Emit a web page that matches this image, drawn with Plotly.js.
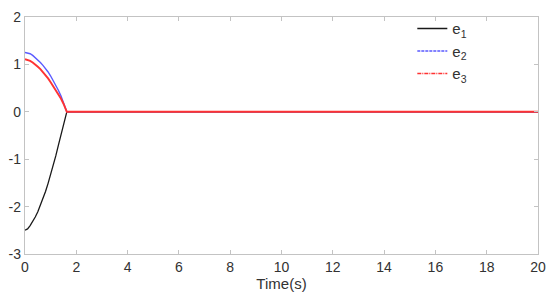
<!DOCTYPE html>
<html>
<head>
<meta charset="utf-8">
<script src="https://cdn.plot.ly/plotly-3.0.1.min.js"></script>
<style>
  html, body { margin: 0; padding: 0; background: #fff; }
  #chart { width: 550px; height: 302px; }
</style>
</head>
<body>
<div id="chart"></div>
<script>
// time samples (s); errors sit at 0 after ~1.63 s
const time = [0, 0.1, 0.2, 0.3, 0.4, 0.5, 0.6, 0.7, 0.8, 0.9, 1.0,
  1.1, 1.2, 1.3, 1.4, 1.5, 1.6, 1.63, 20]
const e1 = [-2.5, -2.47, -2.40, -2.32, -2.22, -2.11, -1.98, -1.84, -1.68, -1.51, -1.33,
  -1.14, -0.93, -0.71, -0.48, -0.25, -0.05, 0, 0]
const e2 = [1.25, 1.245, 1.225, 1.19, 1.145, 1.095, 1.04, 0.98, 0.915, 0.84, 0.755,
  0.665, 0.565, 0.455, 0.34, 0.20, 0.05, 0, 0]
const e3 = [1.11, 1.10, 1.075, 1.04, 1.0, 0.95, 0.90, 0.84, 0.78, 0.705, 0.625,
  0.545, 0.46, 0.37, 0.28, 0.17, 0.04, 0, 0]

const names = ['e<sub>1</sub>', 'e<sub>2</sub>', 'e<sub>3</sub>']
const colors = ['rgb(25,25,25)', 'rgb(90,90,255)', 'rgb(255,50,50)']
const widths = [1.3, 1.4, 1.9]
const dashes = ['solid', '3px,1px', '4px,1px,1px,1px']

const xTicks = [0, 2, 4, 6, 8, 10, 12, 14, 16, 18, 20]
const yTicks = [-3, -2, -1, 0, 1, 2]

CHART = document.getElementById('chart')

// curves are drawn solid in the plot; the legend keys show the line styles
const series = [e1, e2, e3]
const traces = series.map((ys, i) => ({
  x: time,
  y: ys,
  type: 'scatter',
  mode: 'lines',
  name: names[i],
  showlegend: false,
  line: { color: colors[i], width: widths[i] }
}))

const keys = names.map((n, i) => ({
  x: [null],
  y: [null],
  type: 'scatter',
  mode: 'lines',
  name: n,
  line: { color: colors[i], width: 1.6, dash: dashes[i] }
}))

const axisStyle = {
  showgrid: false,
  zeroline: false,
  showline: true,
  mirror: 'ticks',
  linecolor: 'rgb(195,195,195)',
  linewidth: 1.2,
  ticks: 'inside',
  ticklen: 4,
  tickcolor: 'rgb(195,195,195)',
  tickfont: { size: 14, color: 'rgb(50,50,50)' }
}

const layout = {
  width: 550,
  height: 302,
  font: { family: 'Liberation Sans, Arial, sans-serif', size: 14, color: 'rgb(50,50,50)' },
  xaxis: Object.assign({}, axisStyle, {
    range: [0, 20],
    tickvals: xTicks,
    ticktext: xTicks.map(String),
    title: { text: 'Time(s)', standoff: 3, font: { size: 15 } }
  }),
  yaxis: Object.assign({}, axisStyle, {
    range: [-3, 2],
    tickvals: yTicks,
    ticktext: yTicks.map(String)
  }),
  showlegend: true,
  legend: {
    x: 0.755,
    y: 1.02,
    xanchor: 'left',
    yanchor: 'top',
    bgcolor: 'rgba(0,0,0,0)',
    font: { size: 15 },
    itemwidth: 30,
    tracegroupgap: 0
  },
  margin: { l: 25, r: 12, t: 14, b: 48 },
  paper_bgcolor: '#fff',
  plot_bgcolor: '#fff'
}

Plotly.newPlot(CHART, traces.concat(keys), layout, { displayModeBar: false, staticPlot: true })
</script>
</body>
</html>
